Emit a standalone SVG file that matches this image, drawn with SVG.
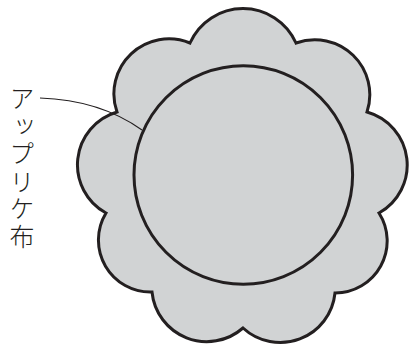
<svg xmlns="http://www.w3.org/2000/svg" width="411" height="346" viewBox="0 0 411 346">
<style>
.shape{fill:#d1d3d4;stroke:#231f20;stroke-width:3;stroke-linejoin:miter}
.leader{fill:none;stroke:#231f20;stroke-width:1.1}
.label{font-family:"Noto Sans CJK JP","Noto Sans",sans-serif;font-size:25px;font-weight:300;fill:#231f20;writing-mode:vertical-rl;text-orientation:upright;letter-spacing:2.5px}
</style>
<rect width="411" height="346" fill="#ffffff"/>
<g id="flower">
<path class="shape" d="M190,43 A58,58 0 0 1 296,43 A55,55 0 0 1 367,112 A55,55 0 0 1 379,213 A52,52 0 0 1 335,293 A55,55 0 0 1 243,328 A55,55 0 0 1 152,292 A52,52 0 0 1 106,213 A55,55 0 0 1 117,112 A55,55 0 0 1 190,43 Z"/>
</g>
<g id="circle">
<circle class="shape" cx="243.3" cy="175" r="109.3"/>
</g>
<g id="connectors">
<path class="leader" d="M40,98 Q100,100 142,130"/>
</g>
<g id="label">
<text class="label" x="22" y="86">アップリケ布</text>
</g>
</svg>
